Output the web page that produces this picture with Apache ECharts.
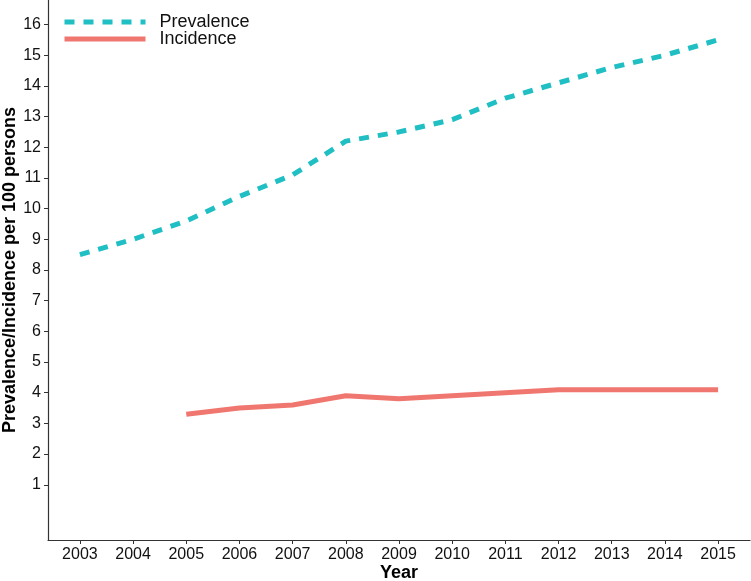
<!DOCTYPE html>
<html><head><meta charset="utf-8">
<script src="https://cdn.jsdelivr.net/npm/echarts@6/dist/echarts.min.js"></script>
<style>html,body{margin:0;padding:0;background:#fff}#c{width:751px;height:581px}</style>
</head><body><div id="c"></div>
<script>
const years = [2003,2004,2005,2006,2007,2008,2009,2010,2011,2012,2013,2014,2015];
const prevalence = [8.5,9.0,9.6,10.4,11.1,12.2,12.5,12.9,13.6,14.1,14.6,15.0,15.5];
const incidenceYears = [2005,2006,2007,2008,2009,2010,2011,2012,2013,2014,2015];
const incidence = [3.3,3.5,3.6,3.9,3.8,3.9,4.0,4.1,4.1,4.1,4.1];
const yTicks = [1,2,3,4,5,6,7,8,9,10,11,12,13,14,15,16];

const font = 'Liberation Sans, Arial, Helvetica, sans-serif';
const chart = echarts.init(document.getElementById('c'));
chart.setOption({
  animation:false,
  backgroundColor:'#fff',
  grid:{left:48,right:1,top:0,bottom:41,containLabel:false,outerBoundsMode:'none'},
  legend:{
    orient:'vertical',left:57,top:8,itemWidth:81,itemHeight:5,itemGap:-1,
    itemStyle:{opacity:0},
    textStyle:{fontFamily:font,fontSize:18,color:'#111',padding:[0,0,0,9],lineHeight:14},
    data:[{name:'Prevalence',lineStyle:{width:5,type:[10,9]}},{name:'Incidence',lineStyle:{width:5}}]
  },
  xAxis:{
    type:'value',min:2002.4,max:2015.6,
    name:'Year',nameLocation:'middle',nameGap:24,nameMoveOverlap:false,
    nameTextStyle:{fontFamily:font,fontSize:18,fontWeight:'bold',color:'#000'},
    axisLine:{onZero:false,lineStyle:{color:'#333',width:1.2}},
    axisTick:{show:true,length:4,lineStyle:{color:'#333'},customValues:years},
    axisLabel:{fontFamily:font,fontSize:16,color:'#111',margin:7,customValues:years,formatter:v=>String(v)},
    splitLine:{show:false}
  },
  yAxis:{
    type:'value',min:-0.8,max:16.8,
    name:'Prevalence/Incidence per 100 persons',nameLocation:'middle',nameGap:29,nameMoveOverlap:false,
    nameTextStyle:{fontFamily:font,fontSize:18,fontWeight:'bold',color:'#000'},
    axisLine:{show:true,onZero:false,lineStyle:{color:'#333',width:1.2}},
    axisTick:{show:true,length:4,lineStyle:{color:'#333'},customValues:yTicks},
    axisLabel:{fontFamily:font,fontSize:16,color:'#111',margin:7,customValues:yTicks},
    splitLine:{show:false}
  },
  series:[
    {name:'Prevalence',type:'line',showSymbol:false,symbol:'none',
     data:years.map((y,i)=>[y,prevalence[i]]),
     lineStyle:{color:'#1FBFC4',width:5,type:[10,9]},itemStyle:{color:'#1FBFC4'}},
    {name:'Incidence',type:'line',showSymbol:false,symbol:'none',
     data:incidenceYears.map((y,i)=>[y,incidence[i]]),
     lineStyle:{color:'#F0776F',width:5},itemStyle:{color:'#F0776F'}}
  ]
});
</script></body></html>
